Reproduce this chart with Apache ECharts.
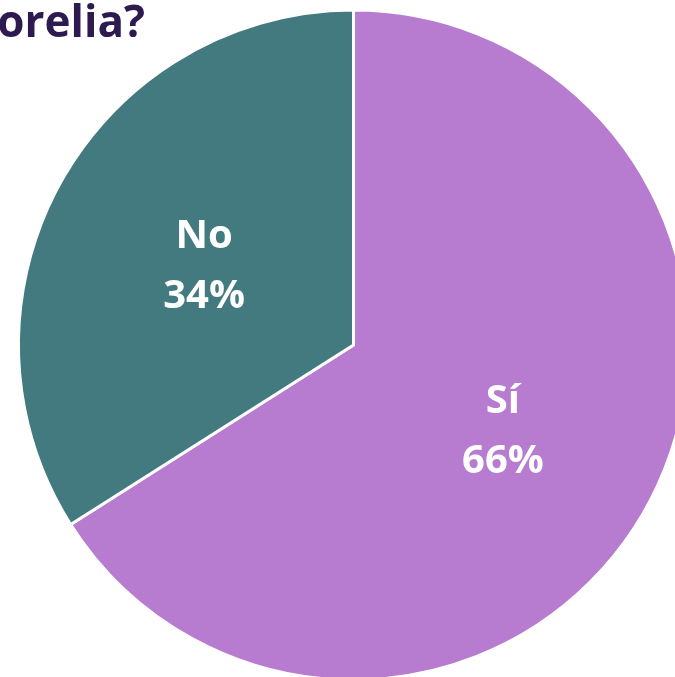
<!DOCTYPE html>
<html><head><meta charset="utf-8">
<script src="https://cdn.jsdelivr.net/npm/echarts@6/dist/echarts.min.js"></script>
<style>html,body{margin:0;padding:0;background:#fff;}#c{width:675px;height:677px;}</style>
</head><body><div id="c"></div>
<script>
const categories = ['Sí', 'No'];
const values = [66, 34];
const colors = ['#b77bcf', '#427a80'];
const titleText = 'orelia?';

const chart = echarts.init(document.getElementById('c'));
chart.setOption({
  animation: false,
  graphic: [{
    type: 'text', x: 145, y: 2,
    style: { text: titleText, font: 'bold 44px "Open Sans", "Noto Sans", sans-serif', fill: '#2d1a4f', textAlign: 'right', textVerticalAlign: 'top' }
  }],
  series: [{
    type: 'pie',
    center: [353.5, 345],
    radius: [0, 335],
    startAngle: 90,
    clockwise: true,
    label: {
      position: 'inner',
      offset: [0, 4],
      formatter: p => p.name + '\n' + p.value + '%',
      color: '#fff', fontSize: 40, fontWeight: 'bold', lineHeight: 60,
      fontFamily: '"Open Sans", "Noto Sans", sans-serif'
    },
    labelLine: { show: false },
    itemStyle: { borderColor: '#fff', borderWidth: 3 },
    data: categories.map((c, i) => ({ name: c, value: values[i], itemStyle: { color: colors[i] } }))
  }]
});
</script></body></html>
